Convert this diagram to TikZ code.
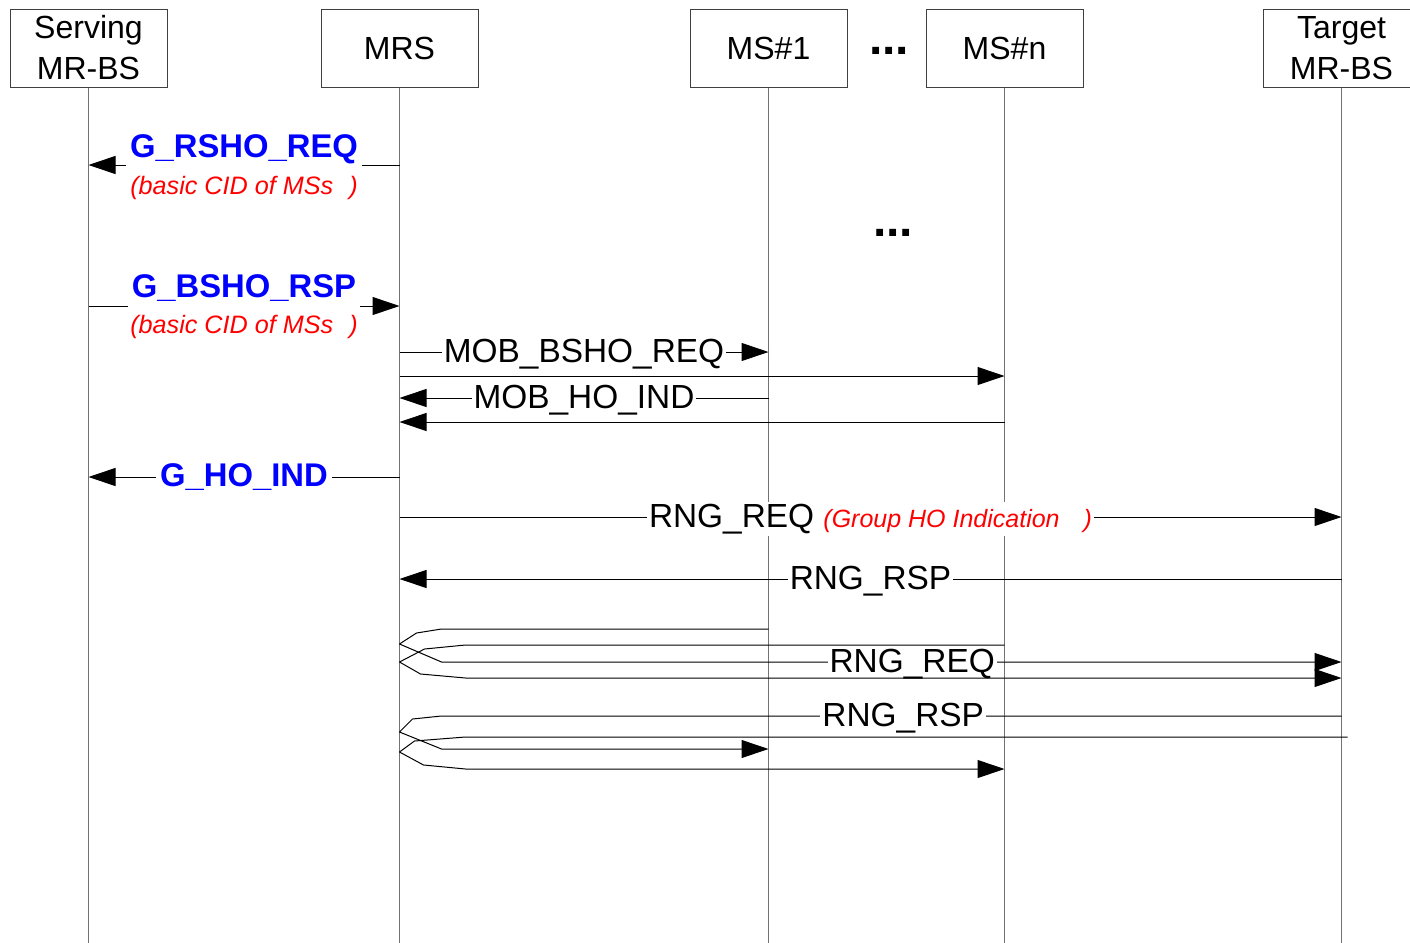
\documentclass[tikz,border=0pt]{standalone}
\usepackage{fontspec}
\setmainfont{Liberation Sans}
\usepackage{xcolor}
\usepackage{tikz}
\usetikzlibrary{positioning, arrows.meta, calc}
\newcommand{\cidnote}[1]{\textcolor{red}{\fontsize{12.5}{14}\selectfont\itshape #1}}

\begin{document}
\begin{tikzpicture}[
    x=0.5pt, y=-0.5pt,
    node distance=76.5pt,
    actor/.style={draw=black!75, line width=0.5pt, minimum width=78.5pt,
                  minimum height=39pt, inner sep=0pt, align=center,
                  font=\fontsize{16}{20.5}\selectfont},
    life/.style={draw=black!55, line width=0.75pt},
    msg/.style={-{Triangle[length=13.5pt, width=9pt]}, line width=0.5pt, line join=round},
    lbl/.style={fill=white, inner xsep=1pt, inner ysep=1pt, yshift=-1pt,
                font=\fontsize{16.7}{18}\selectfont},
    glbl/.style={fill=white, inner xsep=2pt, inner ysep=3pt, text=blue,
                 font=\fontsize{16.4}{18}\selectfont\bfseries},
    note/.style={text=red, font=\fontsize{12.6}{14}\selectfont\itshape},
    dots/.style={font=\fontsize{24}{24}\selectfont\bfseries, inner sep=0pt},
]
\useasboundingbox (0,0) rectangle (1410,943);

% Entities
\node[actor] (srv) at (88.5,48) {Serving\\MR-BS};
\node[actor, right=76.5pt of srv] (mrs) {MRS};
\node[actor, right=105.5pt of mrs] (ms1) {MS\#1};
\node[actor, right=39pt of ms1] (msn) {MS\#n};
\node[actor, right=89.5pt of msn] (tgt) {Target\\MR-BS};
\node[dots, anchor=base] (hdots) at (889,54) {...};

% Lifelines
\coordinate (bottom) at (0,943);
\foreach \n in {srv,mrs,ms1,msn,tgt} {
    \draw[life] (\n.south) -- (\n.south |- bottom);
}

% Message levels
\coordinate (rsho) at (0,165);
\coordinate (bsho) at (0,306);
\coordinate (mob1) at (0,352);
\coordinate (mobn) at (0,376);
\coordinate (ind1) at (0,398);
\coordinate (indn) at (0,422);
\coordinate (gho)  at (0,477);
\coordinate (rreq) at (0,517);
\coordinate (rrsp) at (0,579);

% Group handover request / response
\draw[msg] (mrs |- rsho) --
    node[glbl, anchor=base, yshift=4pt] (rshotxt) {G\_RSHO\_REQ}
    node[note, anchor=base, yshift=-14.5pt] (rshonote) {(basic CID of MSs\hspace{8pt})}
    (srv |- rsho);
\draw[msg] (srv |- bsho) --
    node[glbl, anchor=base, yshift=4.5pt] (bshotxt) {G\_BSHO\_RSP}
    node[note, anchor=base, yshift=-13.5pt] (bshonote) {(basic CID of MSs\hspace{8pt})}
    (mrs |- bsho);
\node[dots, anchor=base] (mdots) at (893,236) {...};

% Relay to the mobile stations
\draw[msg] (mrs |- mob1) -- node[lbl] (mobtxt) {MOB\_BSHO\_REQ} (ms1 |- mob1);
\draw[msg] (mrs |- mobn) -- (msn |- mobn);
\draw[msg] (ms1 |- ind1) -- node[lbl] (indtxt) {MOB\_HO\_IND} (mrs |- ind1);
\draw[msg] (msn |- indn) -- (mrs |- indn);
\draw[msg] (mrs |- gho) -- node[glbl, inner ysep=1pt] (ghotxt) {G\_HO\_IND} (srv |- gho);

% Ranging of the relay
\draw[msg] (mrs |- rreq) --
    node[lbl] (rreqtxt) {RNG\_REQ \cidnote{(Group HO Indication\hspace{12pt})}}
    (tgt |- rreq);
\draw[msg] (tgt |- rrsp) -- node[lbl] (rrsptxt) {RNG\_RSP} (mrs |- rrsp);

% Ranging of the mobile stations through the relay
\coordinate (a1) at (0,629); \coordinate (a2) at (0,644); \coordinate (a3) at (0,662);
\coordinate (b1) at (0,645); \coordinate (b2) at (0,662); \coordinate (b3) at (0,678);
\coordinate (c1) at (0,716); \coordinate (c2) at (0,732); \coordinate (c3) at (0,749);
\coordinate (d1) at (0,737); \coordinate (d2) at (0,752); \coordinate (d3) at (0,769);

\draw[msg] (ms1 |- a1) -- ($(mrs |- a1)+(42,0)$) -- ($(mrs |- a1)+(17,4)$)
    -- (mrs |- a2) -- ($(mrs |- a3)+(42,0)$)
    -- node[lbl, pos=0.523] (fwdreq) {RNG\_REQ} (tgt |- a3);
\draw[msg] (msn |- b1) -- ($(mrs |- b1)+(66,0)$) -- ($(mrs |- b1)+(25,4)$)
    -- (mrs |- b2) -- ($(mrs |- b3)+(21,-4)$) -- ($(mrs |- b3)+(66,0)$)
    -- (tgt |- b3);
\draw[msg] (tgt |- c1) -- node[lbl, pos=0.487] (fwdrsp) {RNG\_RSP}
    ($(mrs |- c1)+(42,0)$) -- ($(mrs |- c1)+(13,3)$)
    -- (mrs |- c2) -- ($(mrs |- c3)+(42,0)$) -- (ms1 |- c3);
\draw[msg] ($(tgt |- d1)+(6,0)$) -- ($(mrs |- d1)+(66,0)$) -- ($(mrs |- d1)+(15,4)$)
    -- (mrs |- d2) -- ($(mrs |- d3)+(24,-4)$) -- ($(mrs |- d3)+(66,0)$)
    -- (msn |- d3);

\end{tikzpicture}
\end{document}
